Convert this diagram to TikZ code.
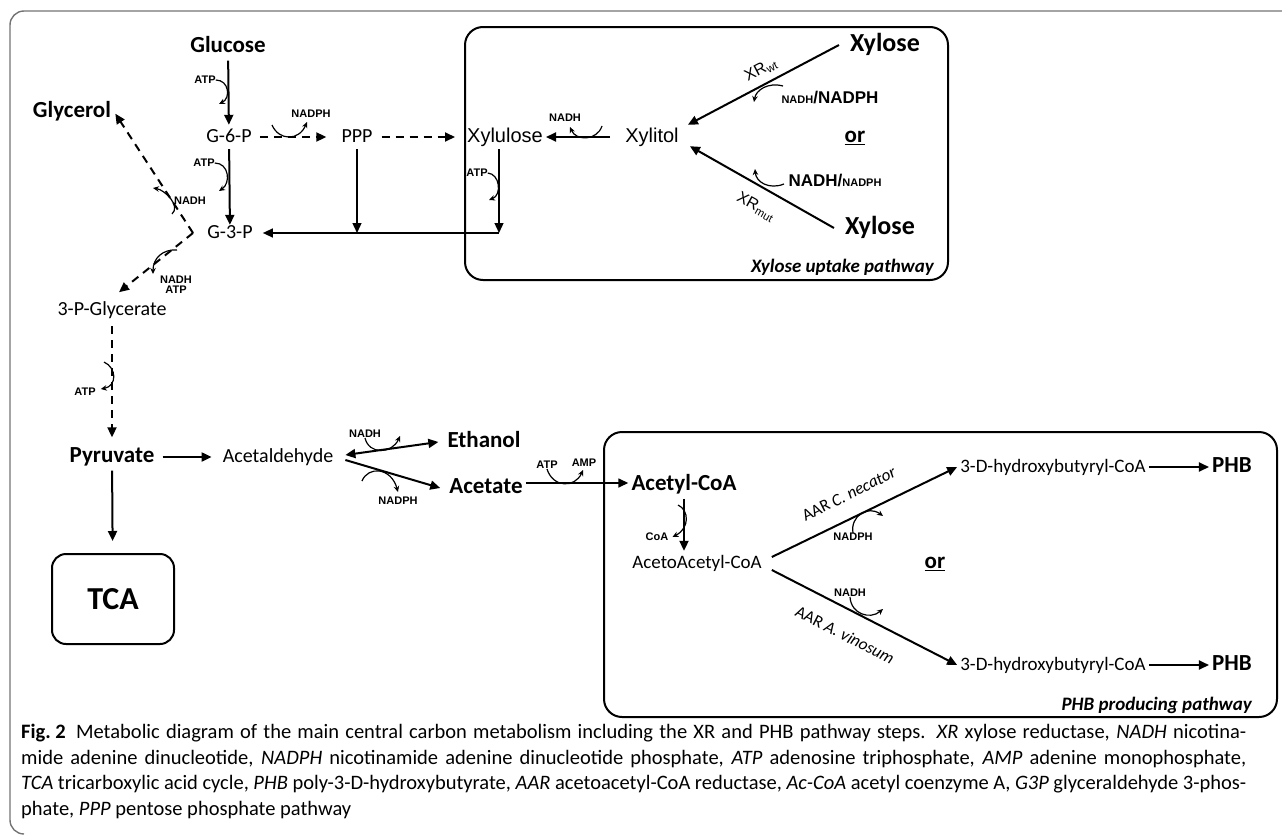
\documentclass[tikz,border=0pt]{standalone}
\usepackage{fontspec}
\setmainfont{Carlito}
\newfontfamily\arialfont{Liberation Sans}
\usetikzlibrary{arrows.meta}

\begin{document}
\begin{tikzpicture}[
        x=1pt, y=-1pt,
        >={Triangle[length=10pt,width=9pt]},
        met/.style={inner sep=3pt, text height=14pt, text depth=4pt, font=\fontsize{20}{24}\selectfont},
        metsm/.style={met, font=\fontsize{19}{23}\selectfont},
        metb/.style={inner sep=3pt, text height=16pt, text depth=5pt, font=\bfseries\fontsize{23}{27}\selectfont},
        xyl/.style={met, font=\arialfont\fontsize{20}{24}\selectfont},
        xylb/.style={inner sep=3pt, text height=18pt, text depth=5pt, font=\bfseries\fontsize{26}{30}\selectfont},
        cof/.style={inner sep=0pt, font=\arialfont\bfseries\fontsize{11}{12}\selectfont},
        cofbig/.style={inner sep=0pt, font=\arialfont\bfseries\fontsize{17}{19}\selectfont},
        enz/.style={inner sep=1pt, font=\arialfont\fontsize{16}{18}\selectfont},
        aar/.style={inner sep=1pt, font=\fontsize{17}{19}\selectfont},
        boxname/.style={inner sep=0pt, font=\bfseries\itshape\fontsize{19}{22}\selectfont},
        flux/.style={line width=2pt, ->},
        fluxthin/.style={line width=1.3pt, ->},
        guess/.style={flux, dash pattern=on 8pt off 6pt},
        side/.style={line width=1.2pt, -{Stealth[length=6pt,width=5.5pt]}},
        pathbox/.style={line width=2pt, rounded corners=18pt},
        tcabox/.style={draw, line width=2pt, rounded corners=14pt, minimum width=122pt, minimum height=90pt,
            font=\bfseries\fontsize{32}{36}\selectfont},
        caption/.style={anchor=north west, align=left, inner sep=0pt, font=\fontsize{20.5}{25.5}\selectfont}
    ]
    \useasboundingbox (0,0) rectangle (1282,835);

    % figure frame, open to the right
    \draw[black!55, line width=1.4pt, rounded corners=14pt] (1290,11) -- (10,11) -- (10,834) -- (24,834);

    % upper part: glycolysis
    \node[metb] (glucose) at (228,47) {Glucose};
    \node[met] (g6p) at (229,137) {G-6-P};
    \node[met] (ppp) at (357,137) {PPP};
    \node[met] (g3p) at (230,233) {G-3-P};
    \node[metb] (glycerol) at (72,112) {Glycerol};
    \node[met] (pgly) at (112,310) {3-P-Glycerate};
    \node[metb] (pyruvate) at (112,457) {Pyruvate};
    \node[met] (acetald) at (278,457) {Acetaldehyde};
    \node[metb] (ethanol) at (484,442) {Ethanol};
    \node[metb] (acetate) at (486,488) {Acetate};
    \node[tcabox] (tca) at (113,599) {TCA};

    % xylose uptake box
    \draw[pathbox] (465,27) rectangle (948,280);
    \node[xyl] (xylulose) at (505,137) {Xylulose};
    \node[xyl] (xylitol) at (652,137) {Xylitol};
    \node[xylb] (xyloseA) at (885,45) {Xylose};
    \node[xylb] (xyloseB) at (880,228) {Xylose};
    \node[metb] (orA) at (855,137) {\underline{or}};
    \node[boxname, anchor=east] (xyltitle) at (934,267) {Xylose uptake pathway};

    % PHB box
    \draw[pathbox] (604,432) rectangle (1277,717);
    \node[metb] (acetylcoa) at (684,485) {Acetyl-CoA};
    \node[metsm] (acac) at (697,563) {AcetoAcetyl-CoA};
    \node[metsm] (hbA) at (1053,467) {3-D-hydroxybutyryl-CoA};
    \node[metb] (phbA) at (1232,467) {PHB};
    \node[metsm] (hbB) at (1053,665) {3-D-hydroxybutyryl-CoA};
    \node[metb] (phbB) at (1232,665) {PHB};
    \node[metb] (orB) at (935,563) {\underline{or}};
    \node[boxname, anchor=east] (phbtitle) at (1252,705) {PHB producing pathway};

    % helper points
    \coordinate (xcorner) at (499,233);
    \coordinate (fork) at (193,233);

    % main fluxes
    \draw[flux] (glucose) -- (g6p);
    \draw[flux, shorten >=-4pt] (g6p) -- (g3p);
    \draw[guess, shorten <=5pt, shorten >=12pt] (g6p) -- (ppp);
    \draw[guess, shorten <=6pt, shorten >=9pt] (ppp) -- (xylulose);
    \draw[flux, shorten <=12pt] (xylitol) -- (xylulose);
    \draw[flux] ([xshift=-8pt]xyloseA.west) -- ([xshift=6pt]xylitol.north east);
    \draw[flux] ([xshift=-8pt]xyloseB.west) -- ([shift={(8pt,3pt)}]xylitol.south east);
    \draw[fluxthin] (xylulose.south -| xcorner) -- (xcorner);
    \draw[fluxthin, shorten >=7pt] (xcorner) -- (g3p);
    \draw[fluxthin] (ppp) -- (ppp |- xcorner);
    \draw[guess, shorten >=2pt] (fork) -- (glycerol.east);
    \draw[guess, shorten >=9pt] (fork) -- (pgly.north);
    \draw[guess, shorten <=4pt, shorten >=6pt] (pgly) -- (pyruvate);
    \draw[flux, shorten <=5pt, shorten >=8pt] (pyruvate) -- (acetald);
    \draw[flux, shorten >=12pt] (pyruvate) -- (tca);
    \draw[flux, <->] ([shift={(9pt,2pt)}]acetald.east) -- ([xshift=-6pt]ethanol.west);
    \draw[flux] ([shift={(9pt,-3pt)}]acetald.east) -- ([xshift=-6pt]acetate.west);
    \draw[flux, line width=1.5pt] ([yshift=5pt]acetate.east) -- ([yshift=5pt]acetate.east -| acetylcoa.west);
    \draw[flux] (acetylcoa) -- (acetylcoa |- acac.north);
    \draw[flux] ([shift={(7pt,6pt)}]acac.east) -- (hbA.west);
    \draw[flux] ([shift={(7pt,-7pt)}]acac.east) -- (hbB.west);
    \draw[flux] (hbA) -- (phbA);
    \draw[flux] (hbB) -- (phbB);

    % enzyme labels
    \node[enz, rotate=27.5] (xrwt) at (761,70) {XR\textsubscript{wt}};
    \node[enz, rotate=-29] (xrmut) at (756,207) {XR\textsubscript{mut}};
    \node[aar, rotate=26.4] (aarC) at (849,494) {AAR \textit{C. necator}};
    \node[aar, rotate=-27] (aarA) at (845,635) {AAR \textit{A. vinosum}};

    % cofactors
    \node[cof] (atp1) at (205,80) {ATP};
    \draw[side] (atp1.east) .. controls (229,80) and (231,98) .. (219,104);
    \node[cof] (atp2) at (204,163) {ATP};
    \draw[side] (atp2.east) .. controls (229,163) and (231,183) .. (219,191);
    \node[cof] (nadph1) at (311,114) {NADPH};
    \draw[side] (272,125) .. controls (279,141) and (299,141) .. (307,122);
    \node[cof] (nadh1) at (565,118) {NADH};
    \draw[side] (602,126) .. controls (597,141) and (576,141) .. (570,127);
    \node[cof] (atp3) at (477,173) {ATP};
    \draw[side] (atp3.east) .. controls (500,174) and (502,195) .. (489,200);
    \node[cofbig] (redA) at (830,98) {{\fontsize{11}{12}\selectfont NADH}/NADPH};
    \draw[side] (783,86) .. controls (768,82) and (756,90) .. (754,102);
    \node[cofbig] (redB) at (835,181) {NADH/{\fontsize{11}{12}\selectfont NADPH}};
    \draw[side] (784,184) .. controls (769,190) and (756,182) .. (755,169);
    \node[cof] (nadh2) at (190,201) {NADH};
    \draw[side] (172,214) .. controls (181,206) and (165,190) .. (153,188);
    \node[cof, align=center] (nadh3) at (176,285) {NADH\\[-2pt]ATP};
    \draw[side] (177,250) .. controls (163,249) and (153,258) .. (153,274);
    \node[cof] (atp4) at (85,392) {ATP};
    \draw[side] (104,362) .. controls (117,368) and (117,386) .. ([shift={(5pt,3pt)}]atp4.east);
    \node[cof] (nadh4) at (365,434) {NADH};
    \draw[side] (nadh4.south) .. controls (369,455) and (392,454) .. (400,436);
    \node[cof] (nadph2) at (398,501) {NADPH};
    \draw[side] (362,481) .. controls (368,466) and (391,467) .. ([yshift=5pt]nadph2.north);
    \node[cof] (atp5) at (547,465) {ATP};
    \node[cof] (amp) at (584,463) {AMP};
    \draw[side] (atp5.south) .. controls (553,488) and (575,488) .. (583,470);
    \node[cof] (coa) at (657,537) {CoA};
    \draw[side] (678,505) .. controls (689,510) and (690,528) .. ([xshift=4pt]coa.east);
    \node[cof] (nadph3) at (853,537) {NADPH};
    \draw[side] (nadph3.north) .. controls (850,516) and (868,505) .. (883,516);
    \node[cof] (nadh5) at (850,593) {NADH};
    \draw[side] (nadh5.south) .. controls (851,614) and (870,620) .. (883,609);

    % caption
    \node[caption] (cap) at (21,724) {%
        \makebox[1225pt][s]{\textbf{\mbox{Fig.\ 2}}\enspace Metabolic diagram of the main central carbon metabolism including the XR and PHB pathway steps. \textit{XR} xylose reductase, \textit{NADH} nicotina-}\\
        \makebox[1225pt][s]{mide adenine dinucleotide, \textit{NADPH} nicotinamide adenine dinucleotide phosphate, \textit{ATP} adenosine triphosphate, \textit{AMP} adenine monophosphate,}\\
        \makebox[1225pt][s]{\textit{TCA} tricarboxylic acid cycle, \textit{PHB} poly-3-D-hydroxybutyrate, \textit{AAR} acetoacetyl-CoA reductase, \textit{Ac-CoA} acetyl coenzyme A, \textit{G3P} glyceraldehyde 3-phos-}\\
        phate, \textit{PPP} pentose phosphate pathway};
\end{tikzpicture}
\end{document}
